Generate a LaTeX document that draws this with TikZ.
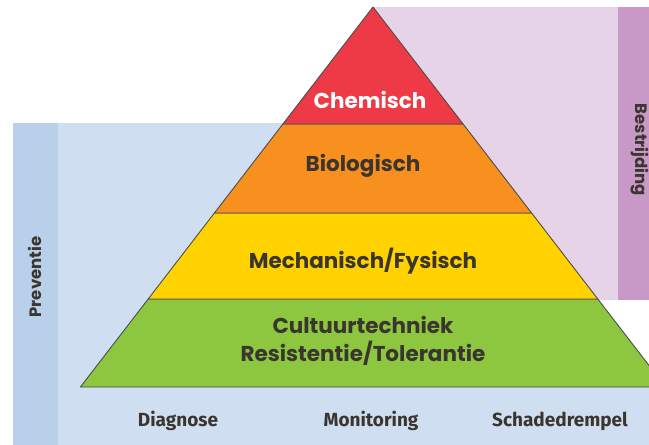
\documentclass[tikz,border=0pt]{standalone}
\usepackage{fontspec}
\setmainfont{Poppins}
\newfontfamily\labelfont{Fira Sans}
\usetikzlibrary{calc}
\definecolor{chemred}{HTML}{EE3A47}
\definecolor{bioorange}{HTML}{F7901E}
\definecolor{mechyellow}{HTML}{FFD200}
\definecolor{cultgreen}{HTML}{8DC63F}
\definecolor{prevlight}{HTML}{CFDEF0}
\definecolor{prevdark}{HTML}{B9D0EA}
\definecolor{bestlight}{HTML}{E6D3E8}
\definecolor{bestdark}{HTML}{C898C6}
\definecolor{textdark}{HTML}{3B3530}
\tikzstyle{layer} = [draw=black!70,line width=0.9pt,line join=round]
\tikzstyle{layertext} = [font=\fontsize{21.5}{28}\selectfont\bfseries,text=textdark,align=center]
\tikzstyle{sidetext} = [font=\fontsize{16.5}{18}\selectfont\bfseries,text=textdark]
\tikzstyle{bottomtext} = [font=\labelfont\fontsize{19}{21}\selectfont\bfseries,text=textdark]

\begin{document}
\begin{tikzpicture}[x=1pt,y=-1pt]
			\useasboundingbox (0,0) rectangle (649,445);
			\clip (0,0) rectangle (649,445);
			\fill[white] (0,0) rectangle (649,445);
			
			% side panels
			\fill[prevlight] (13,123) rectangle (373,445);
			\fill[prevlight] (13,387) rectangle (649,445);
			\fill[prevdark] (13,123) rectangle (58,445);
			\fill[bestlight] (373,7) rectangle (649,300);
			\fill[bestdark] (618,7) rectangle (649,300);
			
			% pyramid layers
			\draw[layer,fill=cultgreen] (148.2,299) -- (597.8,299) -- (665.6,387) -- (80.4,387) -- cycle;
			\draw[layer,fill=mechyellow] (214.4,213) -- (531.6,213) -- (597.8,299) -- (148.2,299) -- cycle;
			\draw[layer,fill=bioorange] (282.9,124) -- (463.1,124) -- (531.6,213) -- (214.4,213) -- cycle;
			\draw[layer,fill=chemred] (373,7) -- (463.1,124) -- (282.9,124) -- cycle;
			
			\node[layertext,text=white] (chem) at (370,100) {Chemisch};
			\node[layertext] (bio) at (363,166) {Biologisch};
			\node[layertext] (mech) at (363,261) {Mechanisch/Fysisch};
			\node[layertext] (cult) at (363,341) {Cultuurtechniek\\Resistentie/Tolerantie};
			
			\node[sidetext,rotate=90] (prev) at (35,277) {Preventie};
			\node[sidetext,rotate=-90] (best) at (640,150) {Bestrijding};
			
			\node[bottomtext] (diag) at (178,421) {Diagnose};
			\node[bottomtext] (moni) at (371,421) {Monitoring};
			\node[bottomtext] (schade) at (560,421) {Schadedrempel};
		\end{tikzpicture}
\end{document}
